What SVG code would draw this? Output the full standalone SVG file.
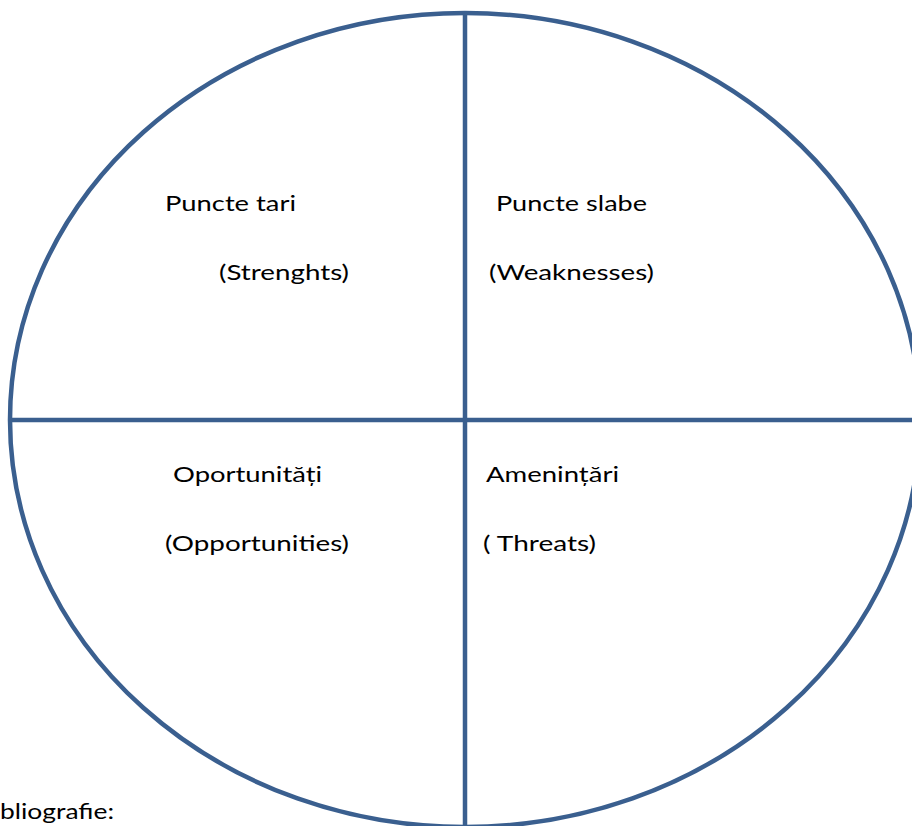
<svg xmlns="http://www.w3.org/2000/svg" width="912" height="826" viewBox="0 0 912 826">
  <style>
    .shape { fill: none; stroke: #3A5F8F; stroke-width: 4.5; }
    .lbl { font-family: Lato, "Open Sans", "Liberation Sans", sans-serif; font-size: 22px; fill: #000; }
  </style>
  <rect x="0" y="0" width="912" height="826" fill="#fff"/>
  <g id="swot-circle">
    <ellipse class="shape" cx="465" cy="420" rx="455" ry="407"/>
  </g>
  <g id="connectors">
    <line class="shape" x1="465" y1="13" x2="465" y2="830"/>
    <line class="shape" x1="10" y1="420" x2="915" y2="420"/>
  </g>
  <g id="strengths">
    <text class="lbl" x="165" y="211" textLength="131" lengthAdjust="spacingAndGlyphs">Puncte tari</text>
    <text class="lbl" x="219" y="280" textLength="130" lengthAdjust="spacingAndGlyphs">(Strenghts)</text>
  </g>
  <g id="weaknesses">
    <text class="lbl" x="496" y="211" textLength="151" lengthAdjust="spacingAndGlyphs">Puncte slabe</text>
    <text class="lbl" x="489" y="280" textLength="165" lengthAdjust="spacingAndGlyphs">(Weaknesses)</text>
  </g>
  <g id="opportunities">
    <text class="lbl" x="173" y="482" textLength="149" lengthAdjust="spacingAndGlyphs">Oportunități</text>
    <text class="lbl" x="165" y="551" textLength="184" lengthAdjust="spacingAndGlyphs">(Opportunities)</text>
  </g>
  <g id="threats">
    <text class="lbl" x="486" y="482" textLength="133" lengthAdjust="spacingAndGlyphs">Amenințări</text>
    <text class="lbl" x="483" y="551" textLength="113" lengthAdjust="spacingAndGlyphs">( Threats)</text>
  </g>
  <g id="footer">
    <text class="lbl" x="0" y="819" textLength="114" lengthAdjust="spacingAndGlyphs">bliografie:</text>
  </g>
</svg>
